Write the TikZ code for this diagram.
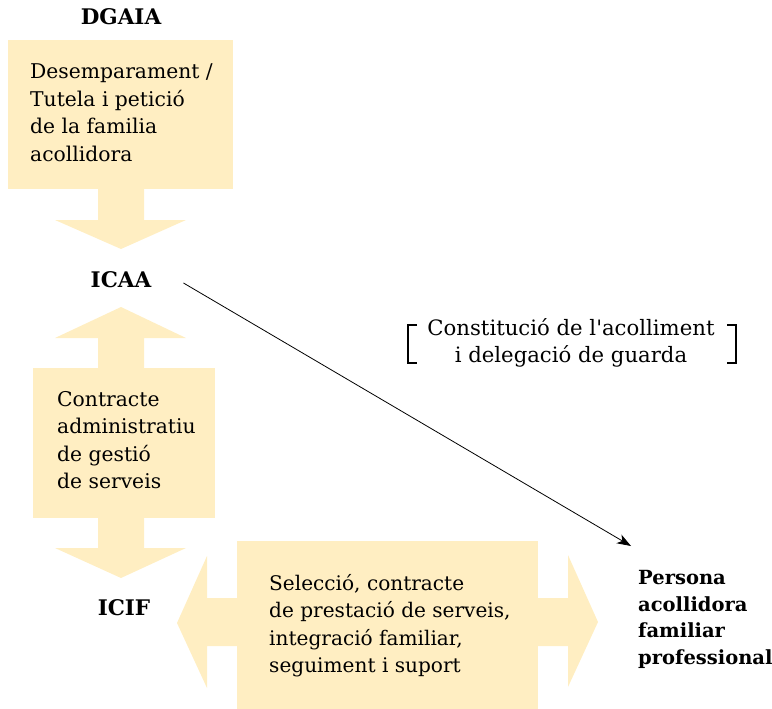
\documentclass[tikz,border=0pt]{standalone}
\usepackage{fontspec}
\setmainfont{DejaVu Serif}[Ligatures=TeXOff]
\usetikzlibrary{positioning}
\usetikzlibrary{arrows.meta}
\definecolor{paper}{RGB}{255,238,194}

\begin{document}
\begin{tikzpicture}[x=1pt,y=-1pt,
    txt/.style={anchor=north west, align=left, inner sep=0pt,
      font=\fontsize{20.3}{27.4}\selectfont},
    lbl/.style={inner sep=0pt, font=\fontsize{21.5}{27}\selectfont\bfseries},
    blk/.style={fill=paper}]
      \useasboundingbox (0,0) rectangle (772,709);

      % blocks
      \fill[blk] (8,40) rectangle (233,189);
      \fill[blk] (33,368) rectangle (215,518);
      \fill[blk] (237,541) rectangle (538,709);

      % vertical arrows
      \fill[blk] (98,189) -- (98,220) -- (55,220) -- (121,249) -- (186,220) -- (144,220) -- (144,189) -- cycle;
      \fill[blk] (98,368) -- (98,338) -- (55,338) -- (121,307) -- (186,338) -- (144,338) -- (144,368) -- cycle;
      \fill[blk] (98,518) -- (98,548) -- (55,548) -- (121,578) -- (186,548) -- (144,548) -- (144,518) -- cycle;

      % horizontal arrows
      \fill[blk] (237,598) -- (207,598) -- (207,556) -- (177,623) -- (207,688) -- (207,646) -- (237,646) -- cycle;
      \fill[blk] (538,598) -- (568,598) -- (568,555) -- (598,622) -- (568,687) -- (568,646) -- (538,646) -- cycle;

      \node[lbl] (dgaia) at (121,17) {DGAIA};
      \node[lbl] (icaa) at (121,280) {ICAA};
      \node[lbl] (icif) at (124,608) {ICIF};

      \node[txt] (desemp) at (30,64) {Desemparament /\\Tutela i petició\\de la familia\\acollidora};
      \node[txt] (contracte) at (57,391) {Contracte\\administratiu\\de gestió\\de serveis};
      \node[txt, font=\fontsize{20.1}{27.4}\selectfont] (seleccio) at (269,574) {Selecció, contracte\\de prestació de serveis,\\integració familiar,\\seguiment i suport};
      \node[txt, font=\fontsize{19.5}{26.6}\selectfont\bfseries] (persona) at (638,570) {Persona\\acollidora\\familiar\\professional};

      \node[align=center, inner sep=0pt, font=\fontsize{21.2}{27}\selectfont] (constit) at (571,343)
        {Constitució de l'acolliment\\i delegació de guarda};
      \draw[line width=1.5pt] (417,325) -- (408,325) -- (408,363) -- (417,363);
      \draw[line width=1.5pt] (727,325) -- (736,325) -- (736,363) -- (727,363);

      \coordinate (tip) at (631,546);
      \draw[line width=0.8pt, -{Stealth[length=14pt,width=10pt,inset=4pt]}] ([xshift=32pt,yshift=-3pt]icaa.east) -- (tip);
\end{tikzpicture}
\end{document}
